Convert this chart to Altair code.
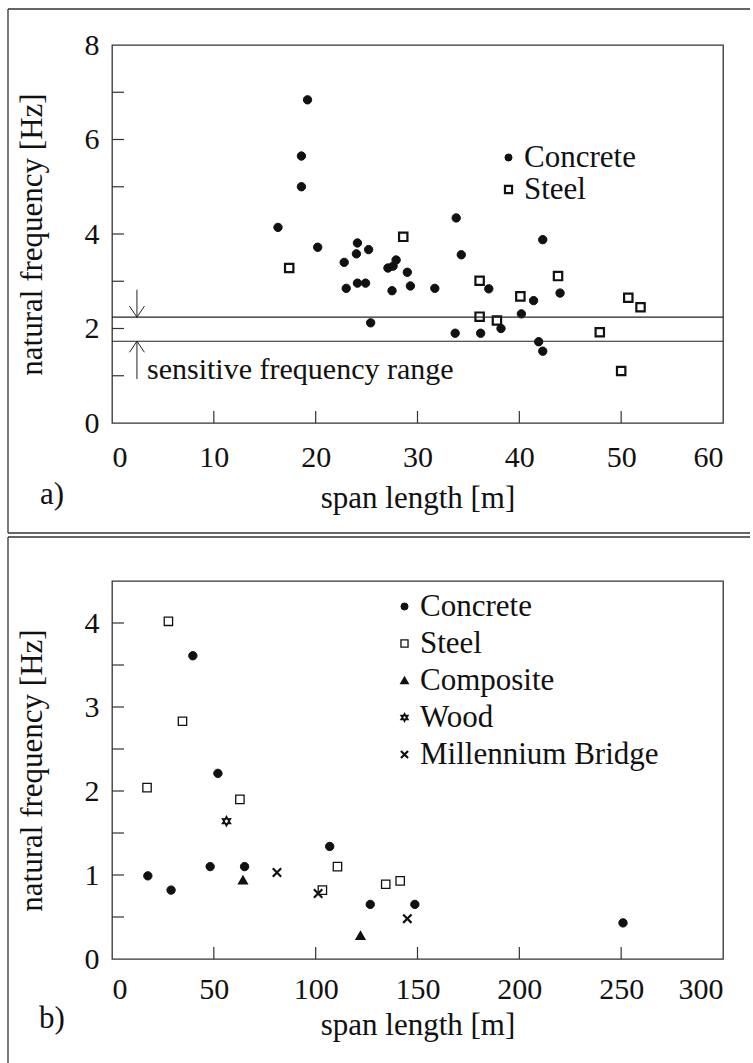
import altair as alt
import pandas as pd

FONT = "Liberation Serif, Times New Roman, Times, DejaVu Serif, serif"
INK = "#111111"
W, H = 611, 378

# ---------------- panel a) ----------------
a_conc_span = [19.2, 18.6, 18.6, 16.3, 20.2, 22.8, 24.1, 24.0, 25.2, 23.0, 24.1, 24.9,
               27.1, 27.6, 27.9, 29.0, 27.5, 29.3, 31.7, 25.4, 33.8, 34.3, 37.0, 33.7,
               36.2, 38.2, 42.3, 44.0, 41.4, 40.2, 41.9, 42.3]
a_conc_freq = [6.84, 5.65, 5.00, 4.14, 3.72, 3.40, 3.81, 3.58, 3.67, 2.85, 2.96, 2.96,
               3.28, 3.32, 3.45, 3.19, 2.80, 2.90, 2.85, 2.12, 4.34, 3.56, 2.84, 1.90,
               1.90, 2.00, 3.88, 2.75, 2.59, 2.31, 1.72, 1.52]
a_steel_span = [17.4, 28.6, 36.1, 36.1, 37.8, 43.8, 40.1, 47.9, 50.7, 51.9, 50.0]
a_steel_freq = [3.28, 3.94, 3.01, 2.25, 2.17, 3.11, 2.68, 1.92, 2.65, 2.45, 1.10]

a_range = [1.73, 2.24]          # sensitive frequency range lines
a_arrow_x = 2.45
a_arrow_down = [2.82, 2.24]
a_arrow_up = [0.93, 1.73]
a_note = "sensitive frequency range"
a_note_pos = (3.44, 0.93)

a_xticks = [10, 20, 30, 40, 50]
a_yticks = [1, 2, 3, 4, 5, 6, 7]
a_xlabels = [0, 10, 20, 30, 40, 50, 60]
a_ylabels = [0, 2, 4, 6, 8]

# ---------------- panel b) ----------------
b_conc_span = [17.6, 29.0, 39.7, 48.2, 52.0, 65.1, 106.9, 126.8, 148.7, 250.9]
b_conc_freq = [0.99, 0.82, 3.61, 1.10, 2.21, 1.10, 1.34, 0.65, 0.65, 0.43]
b_steel_span = [17.2, 27.7, 34.6, 62.8, 103.3, 110.7, 134.4, 141.5]
b_steel_freq = [2.04, 4.02, 2.83, 1.90, 0.82, 1.10, 0.89, 0.93]
b_comp_span = [64.3, 122.0]
b_comp_freq = [0.94, 0.28]
b_wood_span = [56.2]
b_wood_freq = [1.64]
b_mill_span = [81.0, 101.2, 145.0]
b_mill_freq = [1.03, 0.78, 0.48]

b_xticks = [50, 100, 150, 200, 250]
b_yticks = [0.5, 1, 1.5, 2, 2.5, 3, 3.5, 4]
b_xlabels = [0, 50, 100, 150, 200, 250, 300]
b_ylabels = [0, 1, 2, 3, 4]

STAR = ("M0,-1L0.275,-0.476L0.866,-0.5L0.55,0L0.866,0.5L0.275,0.476L0,1"
        "L-0.275,0.476L-0.866,0.5L-0.55,0L-0.866,-0.5L-0.275,-0.476Z")
XSHAPE = "M-1,-1L1,1M-1,1L1,-1"

BOX_LEFT, BOX_RIGHT = -104, 638


def frame(top_off, bottom_off):
    """outer panel box drawn around the whole panel"""
    one = pd.DataFrame({"d": [0]})
    style = dict(color="#333", strokeWidth=1.3)
    return [
        alt.Chart(one).mark_rule(**style).encode(
            x=alt.value(BOX_LEFT), x2=alt.value(BOX_RIGHT), y=alt.value(top_off)),
        alt.Chart(one).mark_rule(**style).encode(
            x=alt.value(BOX_LEFT), x2=alt.value(BOX_RIGHT), y=alt.value(bottom_off)),
        alt.Chart(one).mark_rule(**style).encode(
            x=alt.value(BOX_LEFT), y=alt.value(top_off), y2=alt.value(bottom_off)),
    ]


def panel(df, xdom, ydom, xlabels, ylabels, xticks, yticks, legend_domain, shapes,
          fills, widths, legend_xy, row_pad, tag, tag_dy, xlab_pad, xtitle_pad, extra=None):
    xs = alt.Scale(domain=xdom, nice=False, zero=False)
    ys = alt.Scale(domain=ydom, nice=False, zero=False)
    xax = alt.Axis(values=xlabels, title="span length [m]", format="d",
                   labelPadding=xlab_pad, titlePadding=xtitle_pad)
    yax = alt.Axis(values=ylabels, title="natural frequency [Hz]", format="d",
                   labelPadding=13, titlePadding=36)

    def X(f):
        return alt.X(f, scale=xs, axis=xax)

    def Y(f):
        return alt.Y(f, scale=ys, axis=yax)

    tx = alt.Chart(pd.DataFrame({"span": xticks})).mark_rule(color="#333", strokeWidth=1.2).encode(
        x=X("span:Q"), y=alt.value(H), y2=alt.value(H - 12))
    ty = alt.Chart(pd.DataFrame({"freq": yticks})).mark_rule(color="#333", strokeWidth=1.2).encode(
        y=Y("freq:Q"), x=alt.value(0), x2=alt.value(12))

    leg = alt.Legend(title=None, orient="none", legendX=legend_xy[0], legendY=legend_xy[1],
                     rowPadding=row_pad, labelOffset=0, labelLimit=500, symbolSize=50)

    pts = alt.Chart(df).mark_point(size=70, opacity=1).encode(
        x=X("span:Q"),
        y=Y("freq:Q"),
        shape=alt.Shape("type:N", scale=alt.Scale(domain=legend_domain, range=shapes), legend=leg),
        fill=alt.Fill("type:N", scale=alt.Scale(domain=legend_domain, range=fills), legend=leg),
        stroke=alt.Stroke("type:N", scale=alt.Scale(domain=legend_domain,
                                                    range=[INK] * len(legend_domain)), legend=leg),
        strokeWidth=alt.StrokeWidth("type:N", scale=alt.Scale(domain=legend_domain, range=widths),
                                    legend=leg),
    )

    tagtxt = alt.Chart(pd.DataFrame({"t": [tag]})).mark_text(
        font=FONT, fontSize=31, color=INK, align="center", baseline="middle").encode(
        text="t:N", x=alt.value(-60), y=alt.value(H + tag_dy))

    layers = [pts, tx, ty, tagtxt]
    if extra is not None:
        layers += extra(X, Y)
    return layers


def extra_a(X, Y):
    hl = alt.Chart(pd.DataFrame({"freq": a_range})).mark_rule(color="#222", strokeWidth=1.2).encode(
        y=Y("freq:Q"))
    shafts = alt.Chart(pd.DataFrame({"span": [a_arrow_x, a_arrow_x],
                                     "freq": [a_arrow_down[0], a_arrow_up[0]],
                                     "freq2": [a_arrow_down[1], a_arrow_up[1]]})).mark_rule(
        color="#222", strokeWidth=1).encode(x=X("span:Q"), y=Y("freq:Q"), y2="freq2:Q")
    head_dn = alt.Chart(pd.DataFrame({"span": [a_arrow_x], "freq": [a_arrow_down[1]]})).mark_point(
        shape="M-1,-1.47L0,0L1,-1.47", size=225, filled=False, stroke="#222", strokeWidth=1,
        opacity=1).encode(x=X("span:Q"), y=Y("freq:Q"))
    head_up = alt.Chart(pd.DataFrame({"span": [a_arrow_x], "freq": [a_arrow_up[1]]})).mark_point(
        shape="M-1,1.47L0,0L1,1.47", size=225, filled=False, stroke="#222", strokeWidth=1,
        opacity=1).encode(x=X("span:Q"), y=Y("freq:Q"))
    note = alt.Chart(pd.DataFrame({"span": [a_note_pos[0]], "freq": [a_note_pos[1]],
                                   "t": [a_note]})).mark_text(
        font=FONT, fontSize=30, color=INK, align="left", baseline="alphabetic").encode(
        x=X("span:Q"), y=Y("freq:Q"), text="t:N")
    return [hl, shafts, head_dn, head_up, note]


df_a = pd.concat([
    pd.DataFrame({"span": a_conc_span, "freq": a_conc_freq, "type": "Concrete"}),
    pd.DataFrame({"span": a_steel_span, "freq": a_steel_freq, "type": "Steel"}),
])
df_b = pd.concat([
    pd.DataFrame({"span": b_conc_span, "freq": b_conc_freq, "type": "Concrete"}),
    pd.DataFrame({"span": b_steel_span, "freq": b_steel_freq, "type": "Steel"}),
    pd.DataFrame({"span": b_comp_span, "freq": b_comp_freq, "type": "Composite"}),
    pd.DataFrame({"span": b_wood_span, "freq": b_wood_freq, "type": "Wood"}),
    pd.DataFrame({"span": b_mill_span, "freq": b_mill_freq, "type": "Millennium Bridge"}),
])

top_layers = panel(df_a, [0, 60], [0, 8], a_xlabels, a_ylabels, a_xticks, a_yticks,
                   ["Concrete", "Steel"], ["circle", "square"], [INK, "white"], [1, 2.2],
                   (381, 97), 0, "a)", 72, 19, 11, extra_a)
top = alt.layer(*(top_layers + frame(-36, 488))).properties(width=W, height=H)

bot_layers = panel(df_b, [0, 300], [0, 4.5], b_xlabels, b_ylabels, b_xticks, b_yticks,
                   ["Concrete", "Steel", "Composite", "Wood", "Millennium Bridge"],
                   ["circle", "square", "triangle-up", STAR, XSHAPE],
                   [INK, "white", INK, "white", "white"], [1, 2.2, 1, 1.8, 2.2],
                   (277, 10), 5, "b)", 60, 15, 6)
bottom = alt.layer(*(bot_layers + frame(-44, 486))).properties(width=W, height=H)

chart = alt.vconcat(top, bottom, spacing=0).resolve_scale(
    shape="independent", fill="independent", stroke="independent", strokeWidth="independent"
).resolve_legend(
    shape="independent", fill="independent", stroke="independent", strokeWidth="independent"
).properties(
    padding={"left": 6, "top": 7, "right": 0, "bottom": 0},
    background="white",
).configure_view(
    stroke="#333", strokeWidth=1.3
).configure_axis(
    domain=False, ticks=False, grid=False,
    labelFont=FONT, labelFontSize=30, labelColor=INK,
    titleFont=FONT, titleFontSize=31, titleFontWeight="normal", titleColor=INK,
).configure_legend(
    labelFont=FONT, labelFontSize=31, labelColor=INK, padding=0,
)

chart.save("out.html", embed_options={"renderer": "svg", "actions": False})
